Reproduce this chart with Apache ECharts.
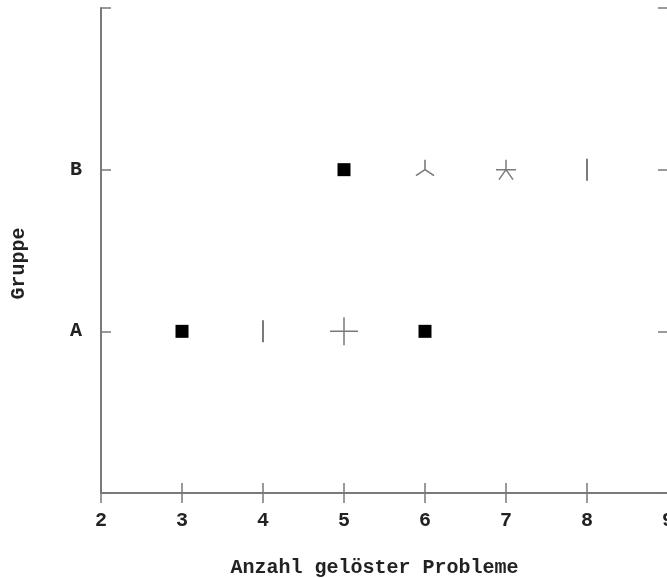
<!DOCTYPE html>
<html>
<head>
<meta charset="utf-8">
<script src="https://cdn.jsdelivr.net/npm/echarts@6/dist/echarts.min.js"></script>
<style>html,body{margin:0;padding:0;background:#fff}#c{width:667px;height:578px}</style>
</head>
<body>
<div id="c"></div>
<script>
// Data
const groups = ['A', 'B'];
const xTicks = [2, 3, 4, 5, 6, 7, 8, 9];
const squarePoints = [[3, 'A'], [6, 'A'], [5, 'B']];
const barPoints = [[4, 'A'], [8, 'B']];
const plusPoints = [[5, 'A']];
const triPoints = [[6, 'B']];
const starPoints = [[7, 'B']];
const xTitle = 'Anzahl gelöster Probleme';
const yTitle = 'Gruppe';

const toXY = pts => pts.map(p => [p[0], groups.indexOf(p[1]) + 1]);

const gray = '#7a7a7a';
const font = 'Liberation Mono';
const fs = 20;

const lineStyle = { color: gray, width: 2 };
const tickStyle = { show: true, inside: true, length: 10, lineStyle: { color: gray, width: 1.5 } };

const chart = echarts.init(document.getElementById('c'));
chart.setOption({
  animation: false,
  backgroundColor: '#fff',
  grid: { left: 101, top: 8, width: 567, height: 485, outerBoundsMode: 'none', containLabel: false },
  xAxis: [
    {
      type: 'value', min: xTicks[0], max: xTicks[xTicks.length - 1], interval: 1,
      position: 'bottom',
      axisLine: { show: true, lineStyle: lineStyle },
      axisTick: tickStyle,
      splitLine: { show: false },
      axisLabel: { margin: 18, color: '#222', fontFamily: font, fontWeight: 'bold', fontSize: fs,
        formatter: v => xTicks.includes(v) ? String(v) : '' },
      name: xTitle, nameLocation: 'middle', nameGap: 65,
      nameTextStyle: { color: '#222', fontFamily: font, fontWeight: 'bold', fontSize: fs, padding: [0, 20, 0, 0] }
    },
    {
      type: 'value', min: xTicks[0], max: xTicks[xTicks.length - 1], interval: 1,
      position: 'top',
      axisLine: { show: true, lineStyle: lineStyle },
      axisTick: tickStyle,
      splitLine: { show: false },
      axisLabel: { show: false }
    }
  ],
  yAxis: [
    {
      type: 'value', min: 0, max: groups.length + 1, interval: 1,
      position: 'left',
      axisLine: { show: true, lineStyle: lineStyle },
      axisTick: tickStyle,
      splitLine: { show: false },
      axisLabel: { margin: 19, color: '#222', fontFamily: font, fontWeight: 'bold', fontSize: fs,
        formatter: v => (v >= 1 && v <= groups.length) ? groups[v - 1] : '' },
      name: yTitle, nameLocation: 'middle', nameGap: 72, nameRotate: 90,
      nameTextStyle: { color: '#222', fontFamily: font, fontWeight: 'bold', fontSize: fs, padding: [0, 26, 0, 0] }
    },
    {
      type: 'value', min: 0, max: groups.length + 1, interval: 1,
      position: 'right',
      axisLine: { show: true, lineStyle: lineStyle },
      axisTick: tickStyle,
      splitLine: { show: false },
      axisLabel: { show: false }
    }
  ],
  series: [
    {
      type: 'scatter', data: toXY(squarePoints), symbol: 'rect', symbolSize: 13,
      itemStyle: { color: '#000', opacity: 1 }
    },
    {
      type: 'scatter', data: toXY(barPoints), symbol: 'rect', symbolSize: [2, 22],
      itemStyle: { color: gray, opacity: 1 }
    },
    {
      type: 'scatter', data: toXY(plusPoints), symbol: 'path://M0 14 L28 14 M14 0 L14 28', symbolSize: 28,
      itemStyle: { color: 'transparent', borderColor: gray, borderWidth: 1.5, opacity: 1 }
    },
    {
      type: 'scatter', data: toXY(triPoints), symbol: 'path://M10 0 L10 10 L1 16 M10 10 L19 16', symbolSize: [18, 16],
      symbolOffset: [0, -2],
      itemStyle: { color: 'transparent', borderColor: gray, borderWidth: 1.5, opacity: 1 }
    },
    {
      type: 'scatter', data: toXY(starPoints), symbol: 'path://M10 0 L10 10 M0 10 L20 10 M10 10 L3 20 M10 10 L17 20', symbolSize: 20,
      itemStyle: { color: 'transparent', borderColor: gray, borderWidth: 1.5, opacity: 1 }
    }
  ]
});
</script>
</body>
</html>
